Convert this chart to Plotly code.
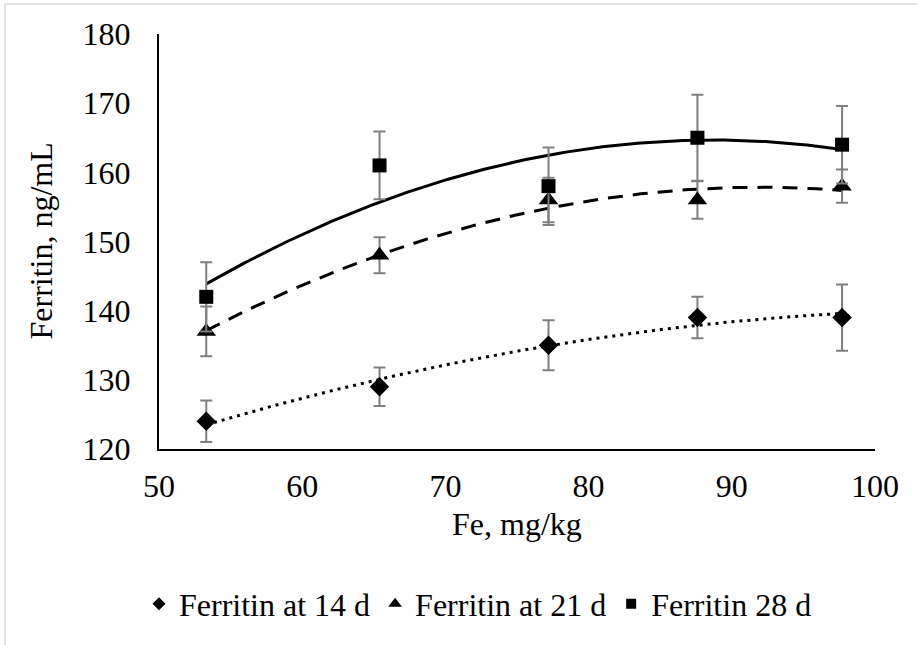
import numpy as np
import plotly.graph_objects as go

# Fe concentration (mg/kg) and serum ferritin (ng/mL) with SE bars
fe = [53.3, 65.4, 77.2, 87.6, 97.7]

ferritin_14 = [124, 129, 135, 139, 139]
err_14 = [3.0, 2.8, 3.6, 3.0, 4.8]

ferritin_21 = [137, 148, 156, 156, 158]
err_21 = [3.6, 2.6, 3.2, 2.7, 2.4]

ferritin_28 = [142, 161, 158, 165, 164]
err_28 = [5.0, 4.9, 5.6, 6.2, 5.6]

names = ["Ferritin at 14 d", "Ferritin at 21 d", "Ferritin 28 d"]
symbols = ["diamond", "triangle-up", "square"]
marker_sizes = [15, 17, 14]
legend_sizes = [10, 12, 10]
dashes = ["3px,5px", "15px,10px", "solid"]

W, H = 917, 645
L, R, T, B = 159, 875, 34, 449
FONT = "Liberation Serif"
FS = 32


def px_x(p):
    return (p - L) / (R - L)


def px_y(p):
    return (B - p) / (B - T)


fig = go.Figure()

series = [(ferritin_14, err_14), (ferritin_21, err_21), (ferritin_28, err_28)]

# second-order polynomial trendlines
for (vals, _), dash in zip(series, dashes):
    coef = np.polyfit(fe, vals, 2)
    xs = np.linspace(min(fe), max(fe), 200)
    fig.add_trace(go.Scatter(
        x=xs, y=np.polyval(coef, xs), mode="lines",
        line=dict(color="black", width=3, dash=dash),
        showlegend=False, hoverinfo="skip"))

# data points with error bars
for (vals, err), name, sym, ms in zip(series, names, symbols, marker_sizes):
    fig.add_trace(go.Scatter(
        x=fe, y=vals, mode="markers", name=name, showlegend=False,
        marker=dict(symbol=sym, size=ms, color="black"),
        error_y=dict(type="data", array=err, visible=True,
                     color="#7f7f7f", thickness=2, width=6)))

# legend entries with smaller keys
for name, sym, ls in zip(names, symbols, legend_sizes):
    fig.add_trace(go.Scatter(
        x=[None], y=[None], mode="markers", name=name,
        marker=dict(symbol=sym, size=ls, color="black")))

fig.update_layout(
    width=W, height=H,
    margin=dict(l=L, r=W - R, t=T, b=H - B),
    paper_bgcolor="white", plot_bgcolor="white",
    font=dict(family=FONT, size=FS, color="black"),
    showlegend=True,
    legend=dict(orientation="h", x=px_x(478), xanchor="center",
                y=px_y(604), yanchor="middle",
                font=dict(family=FONT, size=FS, color="black"),
                itemwidth=30, tracegroupgap=0),
    xaxis=dict(range=[50, 100], tickvals=[50, 60, 70, 80, 90, 100],
               showgrid=False, zeroline=False, showline=True,
               linecolor="black", linewidth=2, ticks="",
               ticklabelstandoff=8,
               tickfont=dict(family=FONT, size=FS, color="black")),
    yaxis=dict(range=[120, 180], tickvals=[120, 130, 140, 150, 160, 170, 180],
               showgrid=False, zeroline=False, showline=True,
               linecolor="black", linewidth=2, ticks="",
               ticklabelstandoff=20,
               tickfont=dict(family=FONT, size=FS, color="black")),
    annotations=[
        dict(text="Ferritin, ng/mL", xref="paper", yref="paper",
             x=px_x(40), y=0.5, textangle=-90, showarrow=False,
             xanchor="center", yanchor="middle",
             font=dict(family=FONT, size=FS, color="black")),
        dict(text="Fe, mg/kg", xref="paper", yref="paper",
             x=0.5, y=px_y(524), showarrow=False,
             xanchor="center", yanchor="middle",
             font=dict(family=FONT, size=FS, color="black")),
    ],
    shapes=[
        dict(type="line", xref="paper", yref="paper",
             x0=px_x(5), x1=1.2, y0=px_y(4), y1=px_y(4),
             line=dict(color="#d9d9d9", width=1.5)),
        dict(type="line", xref="paper", yref="paper",
             x0=px_x(5), x1=px_x(5), y0=px_y(4), y1=-0.6,
             line=dict(color="#d9d9d9", width=1.5)),
    ],
)

fig.write_html("out.html")
